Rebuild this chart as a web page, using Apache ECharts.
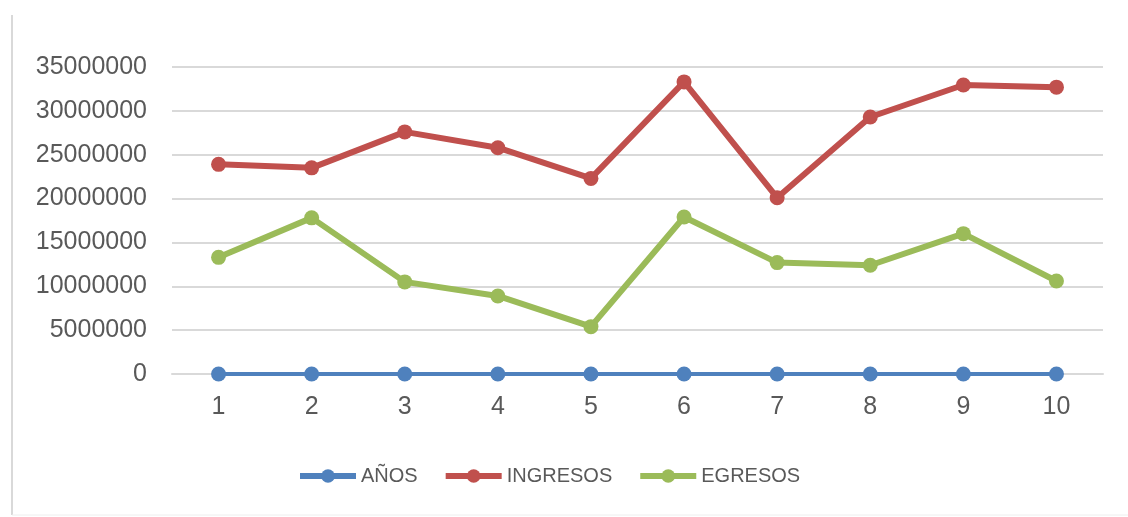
<!DOCTYPE html>
<html><head><meta charset="utf-8">
<script src="https://cdn.jsdelivr.net/npm/echarts@6/dist/echarts.min.js"></script>
<style>html,body{margin:0;padding:0;background:#fff}#c{width:1128px;height:517px}</style>
</head><body><div id="c"></div>
<script>
const categories = ['1','2','3','4','5','6','7','8','9','10'];
const anos = [1,2,3,4,5,6,7,8,9,10];
const ingresos = [23900000,23500000,27600000,25800000,22300000,33300000,20100000,29300000,32950000,32700000];
const egresos = [13300000,17800000,10500000,8900000,5400000,17900000,12700000,12400000,16000000,10600000];

const chart = echarts.init(document.getElementById('c'));
const font = 'Liberation Sans';
const txt = '#595959';
function mk(name, data, color, lw) {
  return {name, type:'line', data, color, symbol:'circle', symbolSize:15,
    lineStyle:{width:lw, color}, itemStyle:{color}, animation:false};
}
chart.setOption({
  animation:false,
  graphic:[
    {type:'line', shape:{x1:12,y1:15,x2:12,y2:515}, style:{stroke:'#D9D9D9', lineWidth:2}},
    {type:'line', shape:{x1:12,y1:515,x2:1128,y2:515}, style:{stroke:'#EEEEEE', lineWidth:1}}
  ],
  grid:{left:172, right:25, top:67, bottom:143},
  legend:{top:461, left:292, itemWidth:56, itemHeight:17, itemGap:25,
    lineStyle:{width:6},
    textStyle:{fontFamily:font, fontSize:20, color:txt},
    data:['AÑOS','INGRESOS','EGRESOS']},
  xAxis:{type:'category', data:categories, boundaryGap:true,
    axisLine:{lineStyle:{color:'#D9D9D9', width:2}}, axisTick:{show:false},
    axisLabel:{fontFamily:font, fontSize:25, color:txt, margin:21}},
  yAxis:{type:'value', min:0, max:35000000, interval:5000000,
    axisLine:{show:false}, axisTick:{show:false},
    splitLine:{lineStyle:{color:'#D9D9D9', width:2}},
    axisLabel:{fontFamily:font, fontSize:25, color:txt, margin:25, formatter: v => String(v)}},
  series:[
    mk('AÑOS', anos, '#4F81BD', 4),
    mk('INGRESOS', ingresos, '#C0504D', 6),
    mk('EGRESOS', egresos, '#9BBB59', 6)
  ]
});
</script></body></html>
